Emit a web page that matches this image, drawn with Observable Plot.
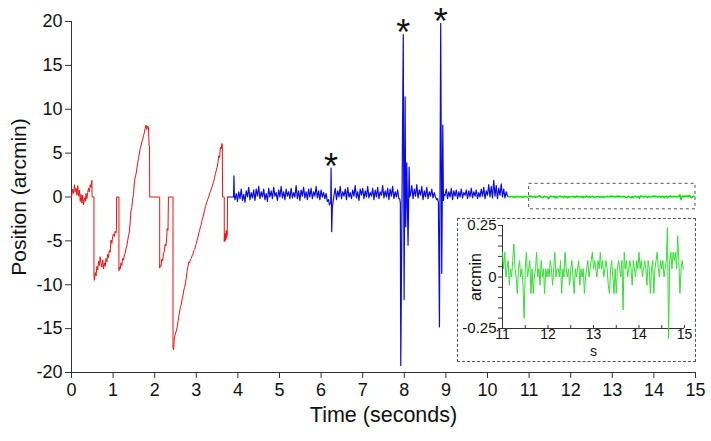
<!DOCTYPE html>
<html><head><meta charset="utf-8">
<script src="https://cdn.jsdelivr.net/npm/d3@7"></script>
<script src="https://cdn.jsdelivr.net/npm/@observablehq/plot@0.6"></script>
<style>
body{margin:0;background:#fff;}
#wrap{position:relative;width:711px;height:441px;font-family:"Liberation Sans",Arial,sans-serif;}
#inset{position:absolute;left:457px;top:218px;width:239px;height:144px;border:1px dashed #555;box-sizing:border-box;background:#fff;}
#inset svg{display:block;}
</style></head><body><div id="wrap"><div id="main"></div><div id="inset"></div></div>
<script>
// ---- axis ticks ----
const xTicks = [0,1,2,3,4,5,6,7,8,9,10,11,12,13,14,15];
const yTicks = [-20,-15,-10,-5,0,5,10,15,20];
const insetXTicks = [11,11.5,12,12.5,13,13.5,14,14.5,15];
const insetXLabels = [11,12,13,14,15];
const insetYTicks = [-0.25,-0.2,-0.15,-0.1,-0.05,0,0.05,0.1,0.15,0.2,0.25];
const insetYLabels = [-0.25,0,0.25];

// ---- red trace [time s, position arcmin] ----
const red = [
[0,0],[0.03,0.9],[0.05,0.4],[0.07,1.4],[0.09,0.6],[0.11,1.0],[0.13,0.2],[0.15,1.3],[0.17,0.1],[0.19,0.8],
[0.21,-0.5],[0.23,0.3],[0.25,-0.7],[0.27,0.2],[0.29,-0.9],[0.31,-0.1],[0.33,-0.5],[0.35,0.4],[0.37,-0.2],[0.39,0.5],
[0.41,1.0],[0.43,0.6],[0.45,1.4],[0.47,1.1],[0.49,1.9],[0.495,0],[0.54,0],
[0.54,-8.8],[0.55,-9.5],[0.57,-8.6],[0.59,-9.0],[0.61,-7.9],[0.63,-8.3],[0.65,-7.3],[0.67,-7.8],[0.69,-6.8],[0.71,-7.6],
[0.73,-8.0],[0.75,-7.2],[0.77,-8.2],[0.79,-7.5],[0.81,-7.9],[0.83,-7.0],[0.85,-7.4],[0.87,-6.5],[0.89,-6.9],[0.91,-6.1],
[0.93,-6.3],[0.95,-4.9],[0.97,-5.3],[0.99,-4.5],[1.01,-4.2],[1.03,-4.5],[1.05,-3.9],[1.07,-4.1],[1.08,-3.7],[1.085,0],[1.14,0],
[1.14,-8.4],[1.15,-8.0],[1.17,-8.2],[1.19,-7.5],[1.21,-7.8],[1.23,-7.0],[1.25,-7.2],[1.27,-6.6],[1.29,-6.4],[1.31,-5.9],
[1.33,-5.6],[1.35,-5.0],[1.37,-4.4],[1.39,-4.0],[1.41,-2.9],[1.43,-1.6],[1.45,-1.2],[1.47,-0.2],[1.49,0.3],[1.51,1.6],
[1.53,2.2],[1.55,2.6],[1.57,3.2],[1.59,3.9],[1.61,4.4],[1.63,4.9],[1.65,5.5],[1.67,5.8],[1.69,6.3],[1.71,6.5],
[1.73,7.0],[1.75,7.3],[1.77,7.8],[1.79,8.2],[1.81,7.7],[1.83,8.1],[1.85,7.9],[1.865,5.8],[1.875,5.8],[1.88,0],[2.12,0],
[2.12,-8.1],[2.13,-7.8],[2.15,-7.9],[2.17,-7.1],[2.19,-7.3],[2.21,-6.5],[2.23,-6.2],[2.25,-5.4],[2.27,-5.6],[2.29,-4.6],
[2.30,-3.6],[2.32,-3.8],[2.33,0],[2.44,0],
[2.44,-17.2],[2.455,-17.4],[2.47,-16.2],[2.50,-15.5],[2.52,-15.3],[2.54,-14.8],[2.56,-14.2],[2.58,-13.6],[2.60,-13.0],[2.62,-12.5],
[2.64,-12.2],[2.66,-11.6],[2.68,-11.2],[2.70,-10.6],[2.72,-10.3],[2.74,-9.8],[2.76,-9.2],[2.78,-8.4],[2.80,-7.9],[2.82,-7.4],
[2.84,-7.5],[2.86,-7.1],[2.88,-7.0],[2.90,-6.7],[2.92,-6.5],[2.94,-6.1],[2.96,-6.0],[2.98,-5.6],[3.00,-5.3],[3.02,-4.9],
[3.04,-4.6],[3.06,-4.1],[3.08,-3.8],[3.10,-3.4],[3.12,-3.1],[3.14,-2.6],[3.16,-2.3],[3.18,-1.9],[3.20,-1.5],[3.22,-1.1],
[3.24,-0.8],[3.26,-0.5],[3.28,-0.2],[3.30,0.0],[3.32,0.4],[3.34,0.6],[3.36,0.9],[3.38,1.2],[3.40,1.5],[3.42,1.8],
[3.44,2.2],[3.46,2.7],[3.48,3.0],[3.50,3.4],[3.52,3.9],[3.54,4.7],[3.56,4.5],[3.58,5.7],[3.60,5.5],[3.615,6.1],[3.625,6.0],[3.632,0],[3.672,0],
[3.672,-5.1],[3.68,-4.3],[3.69,-5.0],[3.70,-4.1],[3.71,-4.9],[3.72,-3.8],[3.73,-4.6],[3.745,-4.2],[3.752,0]
];

// ---- blue trace ----
const blueStart = [[3.752,0],[3.895,0],[3.905,2.4],[3.915,0.1]];
const blueDt = 0.03;
const blueNoiseStarts = [3.93, 6.31, 8.15, 8.98];
const blueNoise1 = [
-0.3,0.4,-0.5,0.6,-0.2,0.9,-0.4,0.3,-0.6,0.7,
0.0,1.1,-0.3,0.5,-0.1,0.8,-0.4,0.9,0.1,1.2,
-0.2,0.6,0.0,0.9,-0.3,0.4,-0.5,1.0,0.0,0.7,
-0.2,1.1,0.1,0.5,-0.4,0.8,0.0,1.2,-0.1,0.6,
-0.3,0.9,0.1,0.6,-0.2,1.0,-0.1,0.5,0.0,1.3,
-0.2,0.7,-0.4,0.8,0.1,1.1,-0.1,0.6,-0.3,0.9,
0.0,1.0,-0.2,0.6,0.1,1.2,-0.1,0.7,-0.3,0.8,
0.0,0.5,-0.2,0.4,-0.5];
const blueEvent1 = [[6.18,-0.3],[6.20,-0.9],[6.232,-0.6],[6.24,3.3],[6.255,-3.95],[6.27,-1.2],[6.29,-0.5]];
const blueNoise2 = [
0.2,1.0,-0.3,0.7,0.0,1.2,-0.2,0.6,0.1,0.9,
-0.3,1.1,0.0,0.5,-0.2,0.8,0.1,1.3,-0.1,0.6,
-0.4,0.9,0.2,1.0,-0.2,0.7,0.0,1.2,-0.1,0.5,
0.1,1.0,-0.3,0.8,0.0,1.1,-0.2,0.6,0.2,1.3,
-0.1,0.7,0.0,1.0,-0.3,0.9,0.1,1.2,-0.2,0.6,
0.0,0.8,-0.2];
const blueEvent2 = [[7.89,-0.2],[7.905,-0.7],[7.915,-19.2],[7.975,18.5],[7.995,-11.7],[8.02,11.4],[8.035,-3.4],[8.06,3.9],[8.09,-5.5],[8.115,3.4],[8.13,0.0]];
const blueNoise3 = [
0.3,1.3,-0.2,0.9,0.1,1.4,-0.1,0.8,0.2,1.2,
-0.3,0.7,0.0,1.1,-0.2,0.6,0.1,0.9,-0.1,0.5,
0.0,-0.3];
const blueEvent3 = [[8.80,-0.2],[8.82,-0.6],[8.845,-14.8],[8.875,19.8],[8.90,-8.7],[8.925,8.2],[8.94,-0.4],[8.955,0.3]];
const blueNoise4 = [
0.2,0.9,-0.2,0.6,0.0,1.0,-0.3,0.7,0.1,0.8,
-0.2,0.6,0.0,0.9,-0.1,0.5,0.2,0.8,-0.2,0.7,
0.0,1.0,-0.1,0.6,0.1,0.8,-0.2,0.5,0.0,0.9,
0.1,1.1,-0.2,0.7,0.2,1.4,0.0,1.2,-0.1,1.9,
0.1,1.3,-0.2,1.0,0.2,1.5,0.0,0.9,-0.1,0.6,
0.1];
const blueEnd = [[10.5,0.05]];

// ---- green trace (fixation), sampled every 25 ms from 10.5 s ----
const greenStart = 10.5, greenDt = 0.025;
const greenValues = [
0.04,0,0.04,0.08,0,0.04,-0.04,0.04,0,0.08,0.04,0,0.04,0.04,-0.04,0,0.08,0.04,0,0.04,
0.12,0.04,0.12,0,0.04,0.08,-0.04,0.04,0,0.08,0.16,0.04,0,-0.08,0.04,0.08,0,0.04,-0.04,-0.2,
0.04,0.12,0,0.04,0.08,-0.08,0.04,-0.08,0,0.04,0.12,0,0.04,-0.04,0.08,0,0.04,-0.08,0.04,0,
0.04,0,0.08,0.04,-0.04,0.04,0.12,0,0.04,0.04,0,0.08,-0.08,0.04,0,0.12,0.04,0,0.04,-0.04,
0.04,0.08,0,-0.08,0.04,0,0.04,0.08,-0.04,0.04,0,0.04,-0.08,0,0.04,0.08,0,0.04,0.08,0.12,
0.04,0.08,0.04,0,0.08,0.04,0.12,0.04,0.08,0,0.04,0.08,0.04,-0.04,-0.08,0.04,0.08,0,-0.08,0.04,
-0.08,0.04,0.08,0.04,0,0.08,-0.16,0.12,0.04,0.08,0,0.04,0.08,0.04,-0.04,0.08,0.04,0,0.08,0.04,
0.12,0.04,0.08,0,0.04,0.08,0.04,-0.04,0.08,0.04,-0.08,0.04,0.08,-0.08,0.04,0.08,0.12,0.04,0,0.08,
0.04,0.08,0,0.04,0.08,0.24,-0.3,0.08,0.12,0.04,0.12,0.08,0.12,0.04,0.2,0.08,-0.08,0.04,0.08,0.04];

// ---- annotations ----
const stars = [{t:6.24, v:3.3},{t:7.975, v:18.5},{t:8.875, v:19.8}];
const zoomBox = [{x1:11, x2:15, y1:-1.4, y2:1.5}];

// ---- assemble ----
const noiseToPairs = (vals, t0) => vals.map((v,i) => [t0 + i*blueDt, v]);
const blue = [
  ...blueStart,
  ...noiseToPairs(blueNoise1, blueNoiseStarts[0]),
  ...blueEvent1,
  ...noiseToPairs(blueNoise2, blueNoiseStarts[1]),
  ...blueEvent2,
  ...noiseToPairs(blueNoise3, blueNoiseStarts[2]),
  ...blueEvent3,
  ...noiseToPairs(blueNoise4, blueNoiseStarts[3]),
  ...blueEnd
];
const green = [[10.5,0.05], ...greenValues.map((v,i) => [greenStart + i*greenDt, v])];
const greenInset = green.filter(d => d[0] >= 11 - 1e-9);

const font = '"Liberation Sans", Arial, sans-serif';
const fmt = d => String(d);

const main = Plot.plot({
  width: 711, height: 441,
  marginLeft: 71, marginRight: 16, marginTop: 21, marginBottom: 69,
  x: {domain: [0,15]},
  y: {domain: [-20,20]},
  style: {fontFamily: font, fontSize: "18px", color: "#111", background: "white"},
  marks: [
    Plot.axisX(xTicks, {tickSize: 6, tickPadding: 5, tickFormat: fmt, fontSize: 18, label: null, stroke: "#333"}),
    Plot.axisY(yTicks, {tickSize: 6, tickPadding: 3, tickFormat: fmt, fontSize: 18, label: null, stroke: "#333"}),
    Plot.ruleX([0], {stroke: "#333"}),
    Plot.ruleY([-20], {stroke: "#333"}),
    Plot.rect(zoomBox, {x1: "x1", x2: "x2", y1: "y1", y2: "y2", fill: "none", stroke: "#555", strokeDasharray: "3,3"}),
    Plot.line(red, {x: d => d[0], y: d => d[1], stroke: "#ee1111", strokeWidth: 1}),
    Plot.line(blue, {x: d => d[0], y: d => d[1], stroke: "#0a0ae6", strokeWidth: 1.2}),
    Plot.line(green, {x: d => d[0], y: d => d[1], stroke: "#11dd11", strokeWidth: 1.5}),
    Plot.text(stars, {x: "t", y: "v", text: () => "*", fontSize: 36, dy: -1}),
    Plot.text(["Time (seconds)"], {frameAnchor: "bottom", dy: 49, fontSize: 21.5, text: d => d}),
    Plot.text(["Position (arcmin)"], {frameAnchor: "left", textAnchor: "middle", dx: -52, rotate: -90, fontSize: 21, text: d => d})
  ]
});
document.getElementById("main").appendChild(main);

const inset = Plot.plot({
  width: 237, height: 142,
  marginLeft: 44, marginRight: 11, marginTop: 6, marginBottom: 33,
  x: {domain: [11,15], axis: null},
  y: {domain: [-0.25,0.25]},
  style: {fontFamily: font, fontSize: "15px", color: "#111", background: "white", overflow: "visible"},
  marks: [
    Plot.ruleX([11], {stroke: "#333"}),
    Plot.ruleY([-0.25], {stroke: "#333"}),
    Plot.tickX(insetXTicks, {x: d => d, insetTop: 100, stroke: "#333"}),
    Plot.axisY(insetYTicks, {tickSize: 4, tickPadding: 2, fontSize: 15, label: null, stroke: "#333",
      tickFormat: d => insetYLabels.includes(d) ? String(d) : ""}),
    Plot.text(insetXLabels, {x: d => d, frameAnchor: "bottom", dy: 10.5, fontSize: 14, text: d => String(d)}),
    Plot.text(["s"], {frameAnchor: "bottom", dy: 27.5, fontSize: 14, text: d => d}),
    Plot.text(["arcmin"], {frameAnchor: "left", textAnchor: "middle", dx: -27, rotate: -90, fontSize: 16, text: d => d}),
    Plot.line(greenInset, {x: d => d[0], y: d => d[1], stroke: "#33e033", strokeWidth: 1})
  ]
});
document.getElementById("inset").appendChild(inset);
</script></body></html>
